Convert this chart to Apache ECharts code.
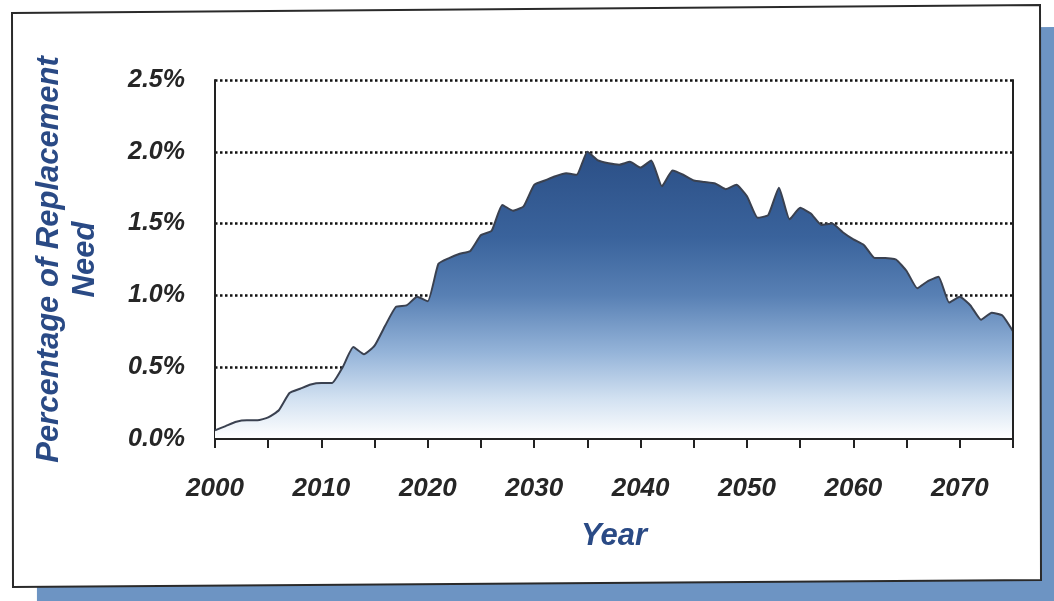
<!DOCTYPE html>
<html>
<head>
<meta charset="utf-8">
<script src="https://cdn.jsdelivr.net/npm/echarts@6/dist/echarts.min.js"></script>
<style>
html,body{margin:0;padding:0;background:#ffffff;}
#chart{width:1054px;height:601px;}
</style>
</head>
<body>
<div id="chart"></div>
<script>
// ---- data ----
const years = [];
for (let y = 2000; y <= 2075; y++) years.push(y);
const replacementNeed = [
  0.06, 0.09, 0.12, 0.13, 0.13, 0.15, 0.20, 0.32, 0.35, 0.38,
  0.39, 0.39, 0.50, 0.64, 0.59, 0.65, 0.79, 0.92, 0.93, 0.99,
  0.96, 1.22, 1.26, 1.29, 1.31, 1.42, 1.45, 1.63, 1.59, 1.62,
  1.77, 1.80, 1.83, 1.85, 1.84, 2.00, 1.94, 1.92, 1.91, 1.93,
  1.89, 1.94, 1.76, 1.87, 1.84, 1.80, 1.79, 1.78, 1.74, 1.77,
  1.69, 1.54, 1.56, 1.75, 1.53, 1.61, 1.57, 1.49, 1.50, 1.44,
  1.39, 1.35, 1.26, 1.26, 1.25, 1.17, 1.05, 1.10, 1.13, 0.95,
  0.99, 0.93, 0.83, 0.88, 0.86, 0.75
];
const yTicks = [0.0, 0.5, 1.0, 1.5, 2.0, 2.5];
const xLabelYears = [2000, 2010, 2020, 2030, 2040, 2050, 2060, 2070];
const yAxisTitle = 'Percentage of Replacement\nNeed';
const xAxisTitle = 'Year';

const seriesData = years.map((y, i) => [y, replacementNeed[i]]);

const FONT = 'Liberation Sans, Arial, sans-serif';
const chart = echarts.init(document.getElementById('chart'), null, {renderer: 'canvas'});
chart.setOption({
  backgroundColor: '#ffffff',
  animation: false,
  graphic: [
    { type: 'polygon', z: -20, silent: true,
      shape: { points: [[36, 35], [1066, 27], [1067, 610], [37, 612]] },
      style: { fill: '#6d94c3' } },
    { type: 'polygon', z: -10, silent: true,
      shape: { points: [[12, 13], [1040, 5], [1041, 580], [13, 587]] },
      style: { fill: '#ffffff', stroke: '#2a2a2a', lineWidth: 2 } }
  ],
  grid: { left: 215, right: 41, top: 80, bottom: 162, containLabel: false },
  xAxis: {
    type: 'value', min: 2000, max: 2075, interval: 5, z: 5,
    name: xAxisTitle, nameLocation: 'middle', nameGap: 82,
    nameTextStyle: { fontFamily: FONT, fontSize: 31, fontWeight: 'bold', fontStyle: 'italic', color: '#2a4a85' },
    axisLine: { show: true, lineStyle: { color: '#222', width: 2 } },
    axisTick: { show: true, inside: false, length: 9, lineStyle: { color: '#222', width: 2 } },
    axisLabel: {
      margin: 37, fontFamily: FONT, fontSize: 26, fontWeight: 'bold', fontStyle: 'italic', color: '#262626',
      formatter: v => (xLabelYears.indexOf(v) >= 0 ? String(v) : '')
    },
    splitLine: { show: false }
  },
  yAxis: [{
    type: 'value', min: 0, max: 2.5, interval: 0.5,
    name: yAxisTitle, nameLocation: 'middle', nameRotate: 90, nameGap: 112,
    nameTextStyle: { fontFamily: FONT, fontSize: 31, fontWeight: 'bold', fontStyle: 'italic', color: '#2a4a85', lineHeight: 36, align: 'center' },
    axisLine: { show: true, lineStyle: { color: '#222', width: 2 } },
    axisTick: { show: false },
    axisLabel: {
      margin: 30, fontFamily: FONT, fontSize: 25, fontWeight: 'bold', fontStyle: 'italic', color: '#262626',
      formatter: v => { const t = yTicks.find(k => Math.abs(k - v) < 1e-6); return t === undefined ? '' : t.toFixed(1) + '%'; }
    },
    splitLine: { show: true, showMinLine: false, lineStyle: { color: '#111111', width: 2.5, type: [2.5, 2.5] } }
  }, {
    type: 'value', min: 0, max: 2.5, interval: 0.5, position: 'right', z: 5,
    axisLine: { show: true, lineStyle: { color: '#222', width: 2 } },
    axisTick: { show: false }, axisLabel: { show: false }, splitLine: { show: false }
  }],
  series: [{
    type: 'line',
    data: seriesData,
    showSymbol: false,
    smooth: 0.15,
    lineStyle: { color: '#3a4150', width: 2 },
    areaStyle: {
      opacity: 1,
      color: new echarts.graphic.LinearGradient(0, 0, 0, 1, [
        { offset: 0, color: '#2b4f86' },
        { offset: 0.3, color: '#3a639c' },
        { offset: 0.5, color: '#5880b4' },
        { offset: 0.7, color: '#95b4d9' },
        { offset: 0.86, color: '#d2e1f1' },
        { offset: 1, color: '#ffffff' }
      ])
    }
  }]
});
</script>
</body>
</html>
